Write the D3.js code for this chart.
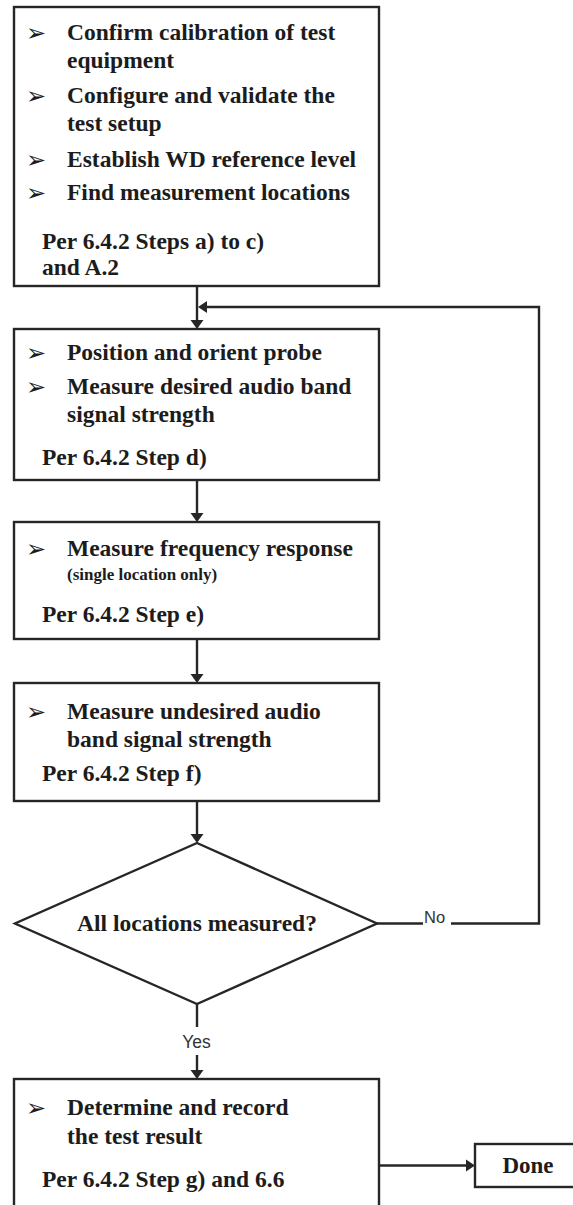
<!DOCTYPE html>
<html>
<head>
<meta charset="utf-8">
<script src="https://cdn.jsdelivr.net/npm/d3@7"></script>
<style>
  html, body { margin: 0; padding: 0; background: #fff; }
  svg { display: block; }
</style>
</head>
<body>
<div id="chart"></div>
<script>
// ---------- data ----------
const stepBullets = [
  [["Confirm calibration of test", "equipment"], ["Configure and validate the", "test setup"], ["Establish WD reference level"], ["Find measurement locations"]],
  [["Position and orient probe"], ["Measure desired audio band", "signal strength"]],
  [["Measure frequency response"]],
  [["Measure undesired audio", "band signal strength"]],
  [["Determine and record", "the test result"]]
];
const stepNotes = [[], [], ["(single location only)"], [], []];
const stepRefs = [
  ["Per 6.4.2 Steps a) to c)", "and A.2"],
  ["Per 6.4.2 Step d)"],
  ["Per 6.4.2 Step e)"],
  ["Per 6.4.2 Step f)"],
  ["Per 6.4.2 Step g) and 6.6"]
];
const decisionText = "All locations measured?";
const branchLabels = ["Yes", "No"];
const endText = "Done";

// ---------- layout ----------
const W = 573, H = 1205;
const boxLeft = 14, boxRight = 379;
const cx = 197;
const boxTops = [7, 329, 522, 683, 1079];
const boxHeights = [279, 151, 117, 118, 140];
const lineOffsets = [
  [33, 61, 96, 124, 160, 193, 242, 268],
  [31, 65, 93, 136],
  [34, 58, 100],
  [36, 64, 98],
  [36, 65, 108]
];
const diamond = { top: 843, bottom: 1004, left: 15, right: 377 };
const dmid = (diamond.top + diamond.bottom) / 2;
const loopX = 539, loopY = 307;
const doneBox = { x: 475, y: 1144, w: 120, h: 43 };

const ink = "#262626";
const lineW = 2.4;
const serif = "'Liberation Serif', 'Times New Roman', serif";
const sans = "'Liberation Sans', Arial, sans-serif";

const svg = d3.select("#chart").append("svg")
  .attr("width", W).attr("height", H)
  .attr("viewBox", `0 0 ${W} ${H}`);

const gLines = svg.append("g").attr("fill", "none").attr("stroke", ink).attr("stroke-width", lineW);
const gText = svg.append("g");

// boxes
gLines.selectAll("rect.step")
  .data(boxTops)
  .join("rect")
  .attr("class", "step")
  .attr("x", boxLeft).attr("y", d => d)
  .attr("width", boxRight - boxLeft)
  .attr("height", (d, i) => boxHeights[i])
  .attr("fill", "#fff");

// texts in boxes
stepBullets.forEach((bullets, i) => {
  const top = boxTops[i];
  const offs = lineOffsets[i];
  let k = 0;
  bullets.forEach(lines => {
    gText.append("text")
      .attr("x", 26).attr("y", top + offs[k] + 1)
      .attr("font-family", "'DejaVu Sans', sans-serif")
      .attr("font-size", 24)
      .attr("fill", "#1c1c1c")
      .text("\u27A2");
    lines.forEach(line => {
      gText.append("text")
        .attr("x", 67).attr("y", top + offs[k])
        .attr("font-family", serif).attr("font-weight", "bold")
        .attr("font-size", 23.5).attr("fill", "#1c1c1c")
        .text(line);
      k++;
    });
  });
  stepNotes[i].forEach(line => {
    gText.append("text")
      .attr("x", 67).attr("y", top + offs[k])
      .attr("font-family", serif).attr("font-weight", "bold")
      .attr("font-size", 17).attr("fill", "#1c1c1c")
      .text(line);
    k++;
  });
  stepRefs[i].forEach(line => {
    gText.append("text")
      .attr("x", 42).attr("y", top + offs[k])
      .attr("font-family", serif).attr("font-weight", "bold")
      .attr("font-size", 23.5).attr("fill", "#1c1c1c")
      .text(line);
    k++;
  });
});

// diamond
gLines.append("path")
  .attr("fill", "#fff")
  .attr("d", `M${cx},${diamond.top} L${diamond.right},${dmid} L${cx},${diamond.bottom} L${diamond.left},${dmid} Z`);
gText.append("text")
  .attr("x", cx).attr("y", dmid + 7)
  .attr("text-anchor", "middle")
  .attr("font-family", serif).attr("font-weight", "bold")
  .attr("font-size", 23.5).attr("fill", "#1c1c1c")
  .text(decisionText);

// arrow helpers
const gArrows = svg.append("g").attr("fill", ink);
function arrowDown(x, y) {
  gArrows.append("path").attr("d", `M${x - 6.5},${y - 9} L${x + 6.5},${y - 9} L${x},${y} Z`);
}
function arrowLeft(x, y) {
  gArrows.append("path").attr("d", `M${x + 9},${y - 6} L${x + 9},${y + 6} L${x},${y} Z`);
}
function arrowRight(x, y) {
  gArrows.append("path").attr("d", `M${x - 9},${y - 6} L${x - 9},${y + 6} L${x},${y} Z`);
}

// vertical connectors
const connectors = [
  [boxTops[0] + boxHeights[0], boxTops[1]],
  [boxTops[1] + boxHeights[1], boxTops[2]],
  [boxTops[2] + boxHeights[2], boxTops[3]],
  [boxTops[3] + boxHeights[3], diamond.top]
];
connectors.forEach(([y1, y2]) => {
  gLines.append("line").attr("x1", cx).attr("x2", cx).attr("y1", y1).attr("y2", y2 - 2);
  arrowDown(cx, y2);
});

// loop back (No)
gLines.append("line").attr("x1", diamond.right).attr("x2", 423).attr("y1", dmid).attr("y2", dmid);
gLines.append("polyline").attr("points", `451,${dmid} ${loopX},${dmid} ${loopX},${loopY} ${cx + 4},${loopY}`);
arrowLeft(cx + 1, loopY);
gText.append("text")
  .attr("x", 424).attr("y", dmid - 1)
  .attr("font-family", sans).attr("font-size", 16.5).attr("fill", "#333")
  .text(branchLabels[1]);

// Yes branch
gLines.append("line").attr("x1", cx).attr("x2", cx).attr("y1", diamond.bottom).attr("y2", 1027);
gLines.append("line").attr("x1", cx).attr("x2", cx).attr("y1", 1055).attr("y2", boxTops[4] - 2);
arrowDown(cx, boxTops[4]);
gText.append("text")
  .attr("x", cx - 0.5).attr("y", 1048)
  .attr("text-anchor", "middle")
  .attr("font-family", sans).attr("font-size", 17.5).attr("fill", "#333")
  .text(branchLabels[0]);

// Done
gLines.append("rect")
  .attr("x", doneBox.x).attr("y", doneBox.y)
  .attr("width", doneBox.w).attr("height", doneBox.h).attr("fill", "#fff");
const doneMid = doneBox.y + doneBox.h / 2;
gLines.append("line").attr("x1", boxRight).attr("x2", doneBox.x - 3).attr("y1", doneMid).attr("y2", doneMid);
arrowRight(doneBox.x, doneMid);
gText.append("text")
  .attr("x", 528).attr("y", doneMid + 7)
  .attr("text-anchor", "middle")
  .attr("font-family", serif).attr("font-weight", "bold")
  .attr("font-size", 23).attr("fill", "#1c1c1c")
  .text(endText);
</script>
</body>
</html>
